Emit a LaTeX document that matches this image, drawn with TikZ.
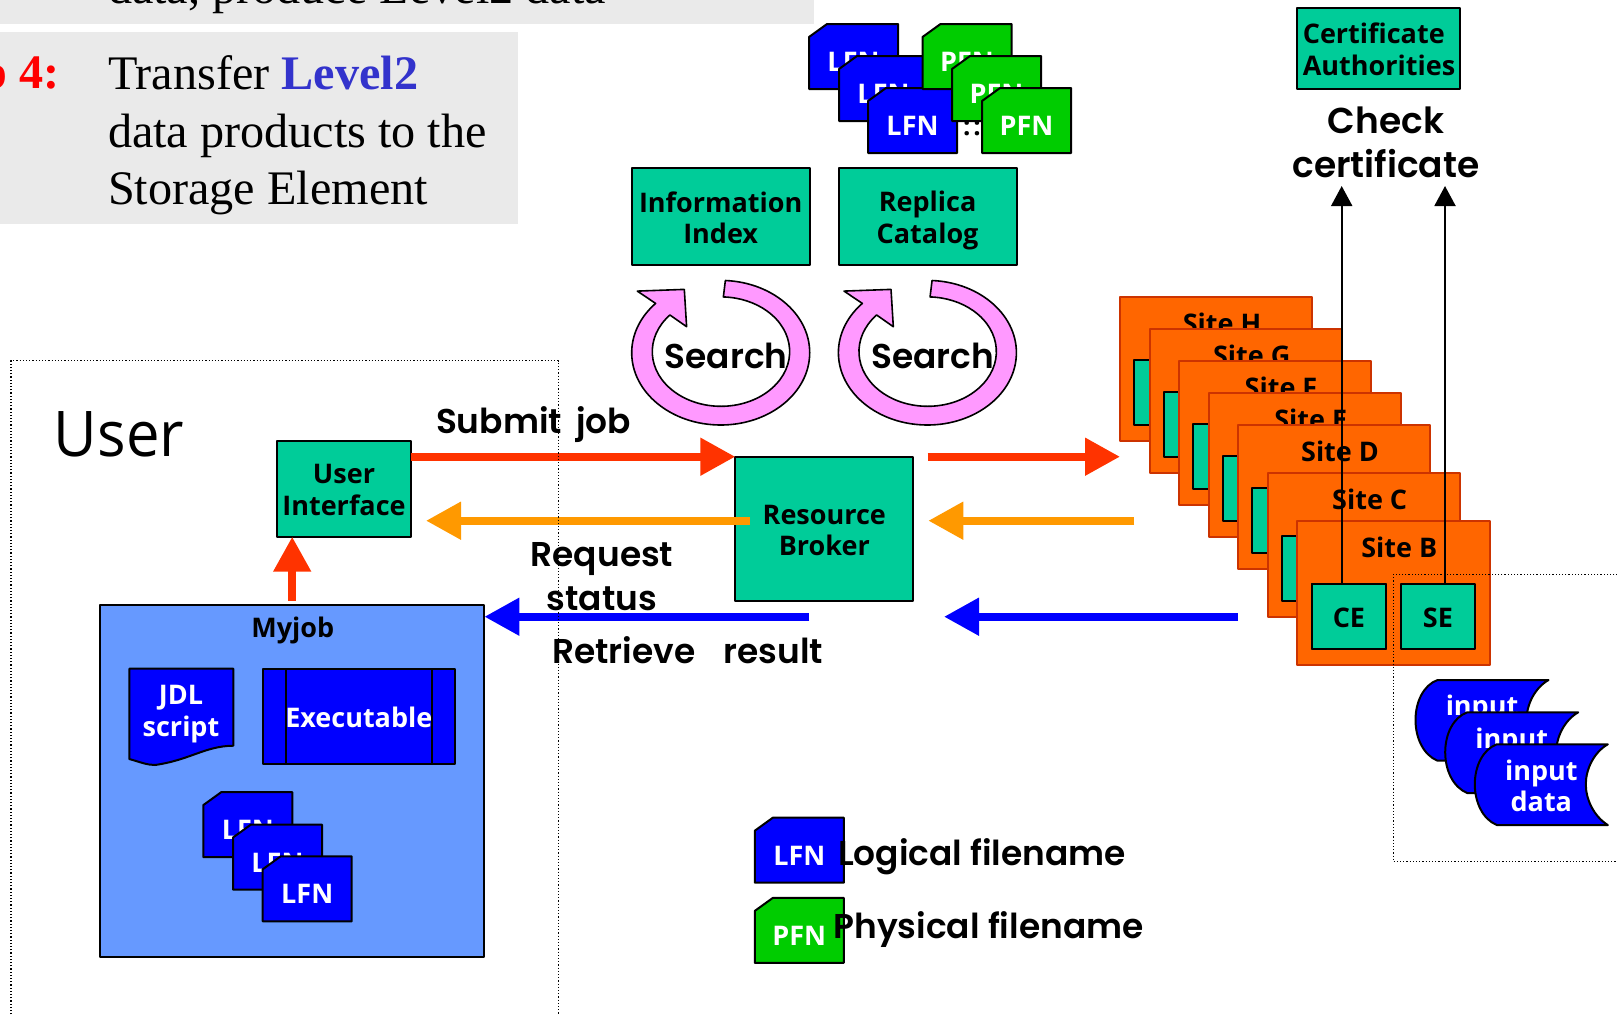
\documentclass[tikz,border=0pt]{standalone}
\usepackage{fontspec}
\usepackage{xcolor}
\usetikzlibrary{arrows.meta}
\setmainfont{Liberation Serif}
\newfontfamily\boxfont{Open Sans}
\newfontfamily\userfont{Open Sans}[FakeStretch=0.95]
\newfontfamily\handfont{Poppins SemiBold}
\definecolor{panel grey}{HTML}{EAEAEA}
\definecolor{step red}{HTML}{FF0000}
\definecolor{level blue}{HTML}{3333CC}
\definecolor{box teal}{HTML}{00CC99}
\definecolor{site orange}{HTML}{FF6600}
\definecolor{site edge}{HTML}{CC3300}
\definecolor{job blue}{HTML}{6699FF}
\definecolor{file blue}{HTML}{0000FF}
\definecolor{file green}{HTML}{00CC00}
\definecolor{ring pink}{HTML}{FF99FF}
\definecolor{flow red}{HTML}{FF3300}
\definecolor{flow orange}{HTML}{FF9900}
% outline of a file tag, then its text: colour, name, x, y, text
\newcommand{\filetag}[5]{
	\draw[draw=black,line width=1pt,fill=#1,shift={(#3,#4)}] (-26.5,-32.5) -- (44.5,-32.5) -- (44.5,32.5) -- (-44.5,32.5) -- (-44.5,-19.5) -- cycle;
	\node[file tag] (#2) at (#3,#4) {#5};
}

\begin{document}
\begin{tikzpicture}[x=0.5pt,y=-0.5pt,outer sep=0pt,line join=round,
		main box/.style={rectangle,draw=black,line width=1pt,fill=box teal,inner sep=0pt,align=center,font=\boxfont\fontsize{13.5}{15.8}\selectfont\bfseries},
		file tag/.style={rectangle,inner sep=0pt,text=white,text height=15pt,text depth=0pt,font=\boxfont\fontsize{13.5}{16}\selectfont\bfseries},
		site box/.style={rectangle,draw=site edge,line width=1pt,fill=site orange,inner sep=0pt,minimum width=96.2pt,minimum height=72pt},
		ce box/.style={main box,minimum width=37.2pt,minimum height=32.3pt,text height=11.6pt,text depth=0pt},
		blue text/.style={text=white,align=center,font=\boxfont\fontsize{13.5}{15.8}\selectfont\bfseries},
		black text/.style={text=black,align=center,inner sep=0pt,font=\boxfont\fontsize{13.5}{15.8}\selectfont\bfseries},
		hand text/.style={inner sep=0pt,align=center,font=\handfont\fontsize{17.2}{22}\selectfont},
		fat flow/.style={-{Triangle[width=18pt,length=17.5pt]},line width=4pt},
		thin flow/.style={-{Triangle[width=10.5pt,length=10pt]},line width=1pt,draw=black},
		dot line/.style={densely dotted,line width=0.6pt,draw=black},
		ring arrow/.style={draw=black,line width=0.8pt,fill=ring pink},
		stored data/.style={draw=black,line width=1pt,fill=file blue}]
		
		\clip (0,0) rectangle (1617,1014);
		
		% step panels
		\fill[panel grey] (0,0) rectangle (814,23.7);
		\fill[panel grey] (0,32) rectangle (518,224);
		\node[anchor=base west,inner sep=0pt,font=\fontsize{24.1}{29}\selectfont] (top) at (108,3) {data, produce Level2 data};
		\node[anchor=base east,inner sep=0pt,text=step red,font=\fontsize{24.1}{29}\selectfont\bfseries] (stepno) at (59.5,88) {Step 4:};
		\node[anchor=north west,inner sep=0pt,align=left,font=\fontsize{24.1}{28.8}\selectfont] (transfer) at (108,55.7) {Transfer {\color{level blue}\bfseries Level2}\\data products to the\\Storage Element};
		
		% catalogs
		\node[main box,minimum width=89pt,minimum height=48.5pt] (ii) at (720.7,216.5) {};
		\node[black text] (iitext) at (720.7,217.6) {Information\\Index};
		\node[main box,minimum width=89pt,minimum height=48.5pt] (rc) at (927.6,216.5) {};
		\node[black text] (rctext) at (927.6,220.6) {Replica\\Catalog};
		\node[main box,minimum width=81.5pt,minimum height=40.5pt] (ca) at (1378.5,48.5) {};
		\node[black text,align=left] (catext) at (1379,49.5) {Certificate\\Authorities};
		\node[font=\boxfont\fontsize{13}{13}\selectfont\bfseries,inner sep=0pt] (dots) at (972,128) {:\kern1.5pt:};
		\foreach \n/\x/\y in {1/853.5/56.5,2/883.5/88.5,3/912.5/120.5} {
			\filetag{file blue}{lfn\n}{\x}{\y}{LFN}
		}
		\foreach \n/\x/\y in {1/967/56.5,2/996.5/88.5,3/1026.5/120.5} {
			\filetag{file green}{pfn\n}{\x}{\y}{PFN}
		}
		
		% search rings
		\foreach \n/\x in {1/720.7,2/927.4} {
			\draw[ring arrow] (\x,352.7) ++(87:44.5pt and 36.15pt) arc[start angle=87,end angle=-223,x radius=44.5pt,y radius=36.15pt]
				-- ++(-18.3,-12.3) -- ++(47,-1.7) -- ++(2.3,37.3) -- ++(-16.7,-11.7)
				arc[start angle=-222,end angle=88,x radius=34.35pt,y radius=27.35pt] -- cycle;
			\node[hand text] (search\n) at (\x+5.5,356) {Search};
		}
		
		% sites
		\foreach \n/\x/\y in {H/1120/296.7,G/1149.7/328.7,F/1179/360.7,E/1208.7/392.7,D/1238/424.7,C/1267.7/472.7,B/1297.3/520.7} {
			\node[site box,anchor=north west] (site\n) at (\x,\y) {};
			\node[black text] (title\n) at (\x+102,\y+27) {Site \n};
			\node[ce box,anchor=north west] (ce\n) at (\x+14.4,\y+63.3) {};
		}
		\node[ce box,anchor=north west] (ce) at (1311.7,584) {CE};
		\node[ce box,anchor=north west] (se) at (1400.7,584) {SE};
		
		% job
		\node[rectangle,draw=black,line width=1pt,fill=job blue,anchor=north west,minimum width=192.2pt,minimum height=175.8pt,inner sep=0pt] (job) at (100,605) {};
		\node[black text] (jobtitle) at (292.8,630.5) {Myjob};
		\draw[draw=black,line width=1pt,fill=file blue] (129.3,668.7) -- (233.3,668.7) -- (233.3,745.7)
			.. controls (205,746) and (190,760) .. (155,765) .. controls (147,765) and (140,762) .. (129.3,759) -- cycle;
		\node[blue text,inner sep=0pt] (jdl) at (181,714) {JDL\\script};
		\node[rectangle,draw=black,line width=1pt,fill=file blue,text=white,minimum width=96.2pt,minimum height=47.8pt,inner sep=0pt,text height=10.6pt,text depth=0pt,font=\boxfont\fontsize{13.5}{15.8}\selectfont\bfseries] (exe) at (358.8,716.5) {Executable};
		\draw[line width=1pt] (286,668.7) -- (286,764.3) (431.7,668.7) -- (431.7,764.3);
		\foreach \n/\x/\y in {1/247.8/824.6,2/277.5/857,3/307.2/888.8} {
			\filetag{file blue}{joblfn\n}{\x}{\y}{LFN}
		}
		\node[main box,minimum width=66.6pt,minimum height=48pt] (ui) at (344,488.7) {};
		\node[black text] (uitext) at (344,490.2) {User\\Interface};
		\node[main box,minimum width=89pt,minimum height=72.2pt] (rb) at (824.3,528.8) {};
		\node[black text] (rbtext) at (824.3,530.5) {Resource\\Broker};
		
		% user data
		\foreach \n/\x/\y in {1/1415.5/680,2/1445.2/712.3,3/1474.8/744.3} {
			\draw[stored data,shift={(\x,\y)}] (22,0) -- (133,0) .. controls (119,8) and (111,25) .. (111,40) .. controls (111,55) and (119,72) .. (133,80.7)
				-- (22,80.7) .. controls (8,75) and (0,58) .. (0,40) .. controls (0,22) and (8,5) .. (22,0) -- cycle;
			\node[blue text,inner sep=0pt] (input\n) at (\x+66.5,\y+41.5) {input\\data};
		}
		
		% legend
		\filetag{file blue}{keylfn}{799.3}{850.2}{LFN}
		\filetag{file green}{keypfn}{799.3}{930.4}{PFN}
		
		\coordinate (red line) at (0,456.7);
		\coordinate (orange line) at (0,520.7);
		\coordinate (blue line) at (0,616.7);
		\coordinate (red tail) at (927.7,456.7);
		\coordinate (orange tail) at (750,520.7);
		\coordinate (orange stop) at (426,520.7);
		\coordinate (orange back) at (1134.4,520.7);
		\coordinate (orange tip) at (928.3,520.7);
		\coordinate (blue tail) at (809.3,616.7);
		\coordinate (blue tip) at (944,616.7);
		\coordinate (ce tip) at (1341.7,186);
		\coordinate (se tip) at (1445,186);
		
		\path (job.north) edge[fat flow,draw=flow red,shorten <=2.1pt] (job.north |- ui.south)
		(ui.east |- red line) edge[fat flow,draw=flow red] (rb.west |- red line)
		(red tail) edge[fat flow,draw=flow red] (siteH.west |- red line)
		(orange tail) edge[fat flow,draw=flow orange] (orange stop)
		(orange back) edge[fat flow,draw=flow orange] (orange tip)
		(blue tail) edge[fat flow,draw=file blue] (job.east |- blue line)
		(siteD.west |- blue line) edge[fat flow,draw=file blue] (blue tip)
		(ce.north -| ce tip) edge[thin flow] (ce tip)
		(se.north -| se tip) edge[thin flow] (se tip);
		
		\draw[dot line] (11,1040) -- (11,360.7) -- (558.4,360.7) -- (558.4,1040);
		\draw[dot line] (1640,574.3) -- (1393.3,574.3) -- (1393.3,861.7) -- (1640,861.7);
		
		% labels
		\node[anchor=base west,inner sep=0pt,font=\userfont\fontsize{31.5}{36}\selectfont] (user) at (54,456.7) {User};
		\node[hand text,font=\handfont\fontsize{18}{22}\selectfont] (check) at (1386,142) {Check\\certificate};
		\node[hand text,anchor=base west] (submit) at (436,433) {Submit\hspace{3pt} job};
		\node[hand text] (request) at (602,577) {Request\\status};
		\node[hand text,anchor=base west] (retrieve) at (552.3,663.3) {Retrieve\hspace{10pt} result};
		\node[hand text,anchor=base west] (keylogical) at (838,865) {Logical filename};
		\node[hand text,anchor=base west] (keyphysical) at (833.5,938) {Physical filename};
	\end{tikzpicture}
\end{document}
